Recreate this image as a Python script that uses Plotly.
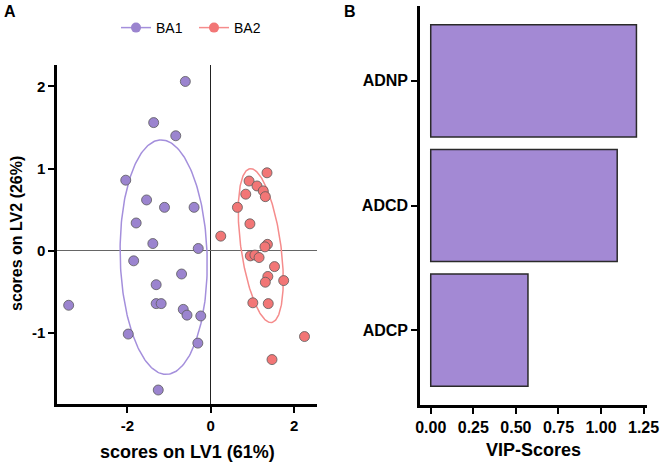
import numpy as np
import plotly.graph_objects as go

# ---------------- data ----------------
ba1_x = [-0.61, -1.37, -0.84, -2.04, -1.54, -1.11, -0.40, -1.79, -1.39, -0.30,
         -1.85, -0.70, -1.31, -3.41, -1.31, -1.19, -0.66, -0.57, -0.24, -1.98, -0.31, -1.26]
ba1_y = [2.06, 1.56, 1.40, 0.86, 0.62, 0.53, 0.53, 0.34, 0.09, 0.03,
         -0.12, -0.28, -0.41, -0.66, -0.64, -0.64, -0.71, -0.78, -0.79, -1.01, -1.12, -1.69]
ba2_x = [1.35, 0.92, 1.11, 1.26, 1.31, 0.84, 0.64, 0.94, 0.24, 1.36, 1.30,
         0.95, 1.06, 1.16, 1.53, 1.37, 1.31, 1.75, 1.01, 1.38, 2.25, 1.47]
ba2_y = [0.95, 0.85, 0.79, 0.73, 0.66, 0.69, 0.53, 0.33, 0.18, 0.08, 0.05,
         -0.06, -0.05, -0.08, -0.19, -0.31, -0.38, -0.36, -0.63, -0.64, -1.04, -1.32]

# ellipse parameters: center, first and second semi-axis vectors (data units)
ba1_ell_center = [-1.13, -0.075]
ba1_ell_u = [-0.07, 1.425]
ba1_ell_v = [1.043, 0.013]
ba2_ell_center = [1.2, 0.065]
ba2_ell_u = [-0.26, 0.935]
ba2_ell_v = [0.474, 0.034]

vip_features = ["ADCP", "ADCD", "ADNP"]
vip_scores = [0.571, 1.095, 1.208]

x1_tickvals = [-2, 0, 2]
x1_ticktext = ["-2", "0", "2"]
y1_tickvals = [-1, 0, 1, 2]
y1_ticktext = ["-1", "0", "1", "2"]
x2_tickvals = [0, 0.25, 0.5, 0.75, 1.0, 1.25]
x2_ticktext = ["0.00", "0.25", "0.50", "0.75", "1.00", "1.25"]

PURPLE = "#9b84cf"
PURPLE_LINE = "#a48fdc"
RED = "#f27676"
RED_LINE = "#f58c8c"
BAR = "#a389d4"
FONT = "Liberation Sans, Arial, sans-serif"


def ellipse(center, u, v, n=240):
    t = np.linspace(0, 2 * np.pi, n)
    return (center[0] + u[0] * np.cos(t) + v[0] * np.sin(t),
            center[1] + u[1] * np.cos(t) + v[1] * np.sin(t))


fig = go.Figure()

e1x, e1y = ellipse(ba1_ell_center, ba1_ell_u, ba1_ell_v)
e2x, e2y = ellipse(ba2_ell_center, ba2_ell_u, ba2_ell_v)
fig.add_trace(go.Scatter(x=e1x, y=e1y, mode="lines", line=dict(color=PURPLE_LINE, width=1.5),
                         showlegend=False, hoverinfo="skip", xaxis="x", yaxis="y"))
fig.add_trace(go.Scatter(x=e2x, y=e2y, mode="lines", line=dict(color=RED_LINE, width=1.5),
                         showlegend=False, hoverinfo="skip", xaxis="x", yaxis="y"))

marker_line = dict(color="#5a5a5a", width=0.8)
fig.add_trace(go.Scatter(x=ba1_x, y=ba1_y, mode="markers", name="BA1", showlegend=False,
                         marker=dict(color=PURPLE, size=10, line=marker_line), xaxis="x", yaxis="y"))
fig.add_trace(go.Scatter(x=ba2_x, y=ba2_y, mode="markers", name="BA2", showlegend=False,
                         marker=dict(color=RED, size=10, line=marker_line), xaxis="x", yaxis="y"))

# legend entries
fig.add_trace(go.Scatter(x=[None], y=[None], mode="lines+markers", name="BA1",
                         line=dict(color=PURPLE_LINE, width=1.5),
                         marker=dict(color=PURPLE, size=10, line=dict(color=PURPLE, width=0)),
                         xaxis="x", yaxis="y"))
fig.add_trace(go.Scatter(x=[None], y=[None], mode="lines+markers", name="BA2",
                         line=dict(color=RED_LINE, width=1.5),
                         marker=dict(color=RED, size=10, line=dict(color=RED, width=0)),
                         xaxis="x", yaxis="y"))

fig.add_trace(go.Bar(x=vip_scores, y=vip_features, orientation="h", width=0.9,
                     marker=dict(color=BAR, line=dict(color="#2a2a2a", width=1.5)),
                     showlegend=False, xaxis="x2", yaxis="y2"))

W, H = 663, 465


def px_x(p):
    return min(1.0, max(0.0, p / W))


def px_y(p):
    return min(1.0, max(0.0, (H - p) / H))


axis_common = dict(showline=True, linecolor="black", linewidth=2.5, ticks="outside",
                   ticklen=6, tickwidth=2, tickcolor="black", showgrid=False, mirror=False,
                   automargin=False)

fig.update_layout(
    width=W, height=H,
    margin=dict(l=0, r=0, t=0, b=0, autoexpand=False),
    paper_bgcolor="white", plot_bgcolor="white",
    font=dict(family=FONT, color="black"),
    xaxis=dict(domain=[px_x(57), px_x(317)], range=[-3.69, 2.55], anchor="y",
               tickvals=x1_tickvals, ticktext=x1_ticktext,
               tickfont=dict(size=15, family=FONT, weight="bold"),
               zeroline=True, zerolinecolor="#222222", zerolinewidth=1.2, **axis_common),
    yaxis=dict(domain=[px_y(404), px_y(65)], range=[-1.86, 2.26], anchor="x",
               tickvals=y1_tickvals, ticktext=y1_ticktext,
               tickfont=dict(size=15, family=FONT, weight="bold"),
               zeroline=True, zerolinecolor="#666666", zerolinewidth=1.2, **axis_common),
    xaxis2=dict(domain=[px_x(420), px_x(647)], range=[-0.063, 1.27], anchor="y2",
                tickvals=x2_tickvals, ticktext=x2_ticktext,
                tickfont=dict(size=16, family=FONT, weight="bold"),
                zeroline=False, **axis_common),
    yaxis2=dict(domain=[px_y(405), px_y(6)], range=[-0.6, 2.6], anchor="x2",
                type="category", categoryorder="array", categoryarray=vip_features,
                tickfont=dict(size=16, family=FONT, weight="bold"),
                zeroline=False, **axis_common),
    legend=dict(orientation="h", x=px_x(116), xanchor="left", y=px_y(28), yanchor="middle",
                font=dict(size=14, family=FONT), bgcolor="rgba(0,0,0,0)",
                itemsizing="trace", entrywidth=33, entrywidthmode="pixels"),
    showlegend=True,
    annotations=[
        dict(text="<b>A</b>", x=px_x(2), y=px_y(12), xref="paper", yref="paper",
             xanchor="left", yanchor="middle", showarrow=False, font=dict(size=16, family=FONT)),
        dict(text="<b>B</b>", x=px_x(342), y=px_y(12), xref="paper", yref="paper",
             xanchor="left", yanchor="middle", showarrow=False, font=dict(size=16, family=FONT)),
        dict(text="<b>scores on LV1 (61%)</b>", x=px_x(187), y=px_y(452), xref="paper", yref="paper",
             xanchor="center", yanchor="middle", showarrow=False, font=dict(size=18, family=FONT)),
        dict(text="<b>scores on LV2 (26%)</b>", x=px_x(17), y=px_y(234), xref="paper", yref="paper",
             xanchor="center", yanchor="middle", showarrow=False, textangle=-90,
             font=dict(size=16, family=FONT)),
        dict(text="<b>VIP-Scores</b>", x=px_x(533), y=px_y(450), xref="paper", yref="paper",
             xanchor="center", yanchor="middle", showarrow=False, font=dict(size=18, family=FONT)),
    ],
)

# remove the default 8px page margin so the figure fills the window exactly
fig.write_html("out.html", config={"displayModeBar": False},
               post_script="document.body.style.margin='0';")
